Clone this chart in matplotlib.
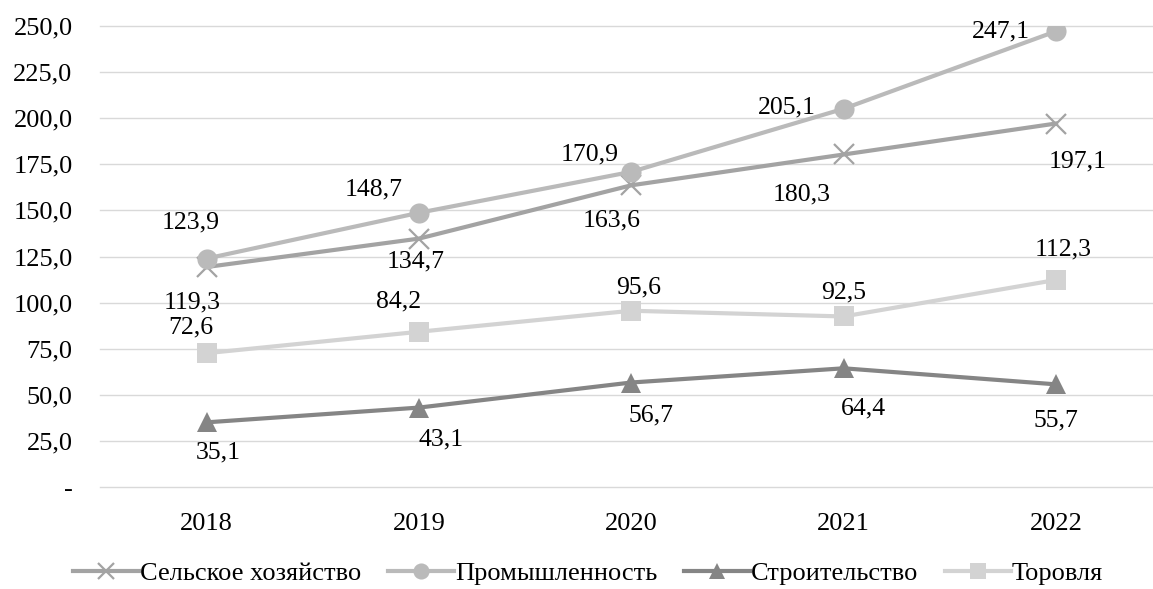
import matplotlib.pyplot as plt

plt.rcParams['font.family'] = ['Liberation Serif', 'DejaVu Serif']

# data
years = ["2018", "2019", "2020", "2021", "2022"]
agri = [119.3, 134.7, 163.6, 180.3, 197.1]
industry = [123.9, 148.7, 170.9, 205.1, 247.1]
construction = [35.1, 43.1, 56.7, 64.4, 55.7]
trade = [72.6, 84.2, 95.6, 92.5, 112.3]
names = ["Сельское хозяйство", "Промышленность", "Строительство", "Торовля"]

series = [agri, industry, construction, trade]
colors = ["#a3a3a3", "#bababa", "#858585", "#d3d3d3"]
markers = ["x", "o", "^", "s"]
msizes = [15, 14.5, 15, 15]
# label offsets in pixels (dx, dy)
offsets = [
    [(-14, -35), (-3, -23), (-20, -35), (-42, -40), (22, -38)],
    [(-16, 36), (-45, 23), (-42, 17), (-57, 1), (-55, 0)],
    [(12, -30), (22, -32), (20, -33), (20, -40), (0, -36)],
    [(-16, 26), (-20, 30), (7, 23), (0, 24), (7, 30)],
]

fig = plt.figure(figsize=(11.53, 5.89), dpi=100)
ax = fig.add_axes([0.087, 0.173, 0.921, 0.783])
x = range(len(years))

for vals, name, c, m, ms, offs in zip(series, names, colors, markers, msizes, offsets):
    mew = 1.6 if m == "x" else 0
    ax.plot(x, vals, color=c, lw=3, marker=m, markersize=ms, markeredgewidth=mew,
            markerfacecolor=c, markeredgecolor=c, label=name)
    for xi, v, (dx, dy) in zip(x, vals, offs):
        ax.annotate(f"{v:.1f}".replace(".", ","), (xi, v), xytext=(dx, dy),
                    textcoords="offset pixels", ha="center", va="center", fontsize=18.5)

ax.set_xlim(-0.5, 4.5)
ax.set_ylim(0, 250)
ax.set_xticks(list(x))
ax.set_xticklabels(years)
yt = list(range(0, 251, 25))
ax.set_yticks(yt)
ax.set_yticklabels(["-" if t == 0 else f"{t:.1f}".replace(".", ",") for t in yt])
ax.tick_params(length=0, labelsize=19)
ax.tick_params(axis="y", pad=20)
ax.tick_params(axis="x", pad=19)
ax.grid(axis="y", color="#d9d9d9", lw=1)
for gl in ax.get_ygridlines():
    gl.set_clip_on(False)
ax.set_axisbelow(True)
for s in ax.spines.values():
    s.set_visible(False)

fig.legend(loc="center", bbox_to_anchor=(0.51, 0.026), ncol=4, frameon=False,
           fontsize=19, handlelength=2.5, handletextpad=0.05, columnspacing=1.0,
           markerscale=0.8, borderpad=0)

fig.savefig("out.png", dpi=100)
